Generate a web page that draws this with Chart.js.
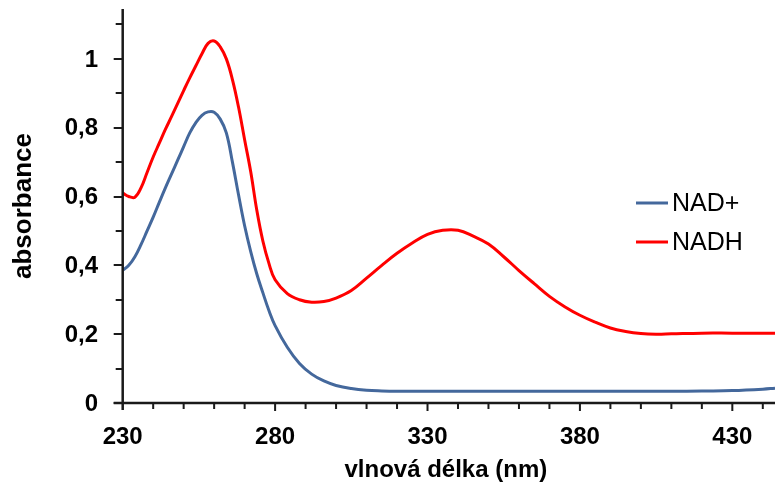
<!DOCTYPE html>
<html>
<head>
<meta charset="utf-8">
<script src="https://cdn.jsdelivr.net/npm/chart.js@4/dist/chart.umd.min.js"></script>
<style>
html,body{margin:0;padding:0;background:#fff;}
#wrap{width:775px;height:487px;position:relative;}
</style>
</head>
<body>
<div id="wrap"><canvas id="c" width="775" height="487"></canvas></div>
<script>
const wavelengths = [230,232,234,236,238,240,242,244,246,248,250,252,254,256,258,260,262,264,266,268,270,272,274,276,278,280,284,288,292,296,300,305,310,315,320,325,330,335,340,345,350,355,360,365,370,375,380,385,390,395,400,405,410,420,430,440,444];
const nadPlus = [0.386,0.40,0.425,0.46,0.50,0.54,0.583,0.625,0.665,0.705,0.745,0.785,0.815,0.836,0.846,0.845,0.825,0.785,0.70,0.605,0.515,0.44,0.375,0.32,0.268,0.225,0.162,0.115,0.084,0.064,0.051,0.042,0.037,0.035,0.034,0.034,0.034,0.034,0.034,0.034,0.034,0.034,0.034,0.034,0.034,0.034,0.034,0.034,0.034,0.034,0.034,0.034,0.034,0.035,0.036,0.040,0.043];
const nadh = [0.61,0.60,0.598,0.625,0.67,0.715,0.755,0.795,0.832,0.87,0.908,0.945,0.98,1.015,1.045,1.052,1.035,1.0,0.94,0.86,0.765,0.672,0.56,0.47,0.405,0.358,0.318,0.30,0.293,0.295,0.305,0.327,0.363,0.40,0.435,0.465,0.49,0.502,0.502,0.485,0.462,0.425,0.385,0.347,0.31,0.28,0.255,0.235,0.218,0.208,0.202,0.200,0.201,0.203,0.203,0.203,0.203];
const seriesNames = ['NAD+','NADH'];
const xTitle = 'vlnová délka (nm)';
const yTitle = 'absorbance';
const xMajorTicks = [230,280,330,380,430];
const yMajorTicks = [0,0.2,0.4,0.6,0.8,1];
const yTickLabels = ['0','0,2','0,4','0,6','0,8','1'];

const colors = ['#44689c','#ff0000'];
const toPts = arr => wavelengths.map((w,i)=>({x:w,y:arr[i]}));
const FONT = '"Liberation Sans", Arial, sans-serif';

const axesPlugin = {
  id:'axesPlugin',
  afterDatasetsDraw(chart){
    const ctx = chart.ctx, xs = chart.scales.x, ys = chart.scales.y;
    const ca = chart.chartArea;
    const x0 = xs.getPixelForValue(230), y0 = ys.getPixelForValue(0);
    ctx.save();
    ctx.strokeStyle = '#1a1a1a';
    ctx.lineWidth = 2.5;
    ctx.beginPath();
    ctx.moveTo(x0, ca.top); ctx.lineTo(x0, y0 + 7);
    ctx.moveTo(x0 - 9, y0); ctx.lineTo(ca.right + 2, y0);
    ctx.stroke();
    ctx.lineWidth = 2;
    ctx.beginPath();
    for (let k = 0; k <= 11; k++) {
      const v = k / 10;
      const p = Math.round(ys.getPixelForValue(v));
      const major = k % 2 === 0;
      ctx.moveTo(x0 - (major ? 9 : 7), p); ctx.lineTo(x0, p);
    }
    for (let w = 240; w <= 444; w += 10) {
      const p = xs.getPixelForValue(w);
      const major = xMajorTicks.includes(w);
      ctx.moveTo(p, y0); ctx.lineTo(p, y0 + (major ? 8 : 6));
    }
    ctx.stroke();
    // tick labels
    ctx.fillStyle = '#000';
    ctx.font = 'bold 24px ' + FONT;
    ctx.textBaseline = 'middle';
    ctx.textAlign = 'right';
    yMajorTicks.forEach((v, i) => ctx.fillText(yTickLabels[i], 98, ys.getPixelForValue(v) + 1));
    ctx.textAlign = 'center';
    xMajorTicks.forEach(w => ctx.fillText(String(w), xs.getPixelForValue(w), 437));
    // titles
    ctx.fillText(xTitle, (ca.left + ca.right) / 2 - 3, 470);
    ctx.save();
    ctx.translate(24, (ca.top + ca.bottom) / 2);
    ctx.rotate(-Math.PI / 2);
    ctx.font = 'bold 26px ' + FONT;
    ctx.fillText(yTitle, 0, 0);
    ctx.restore();
    // legend
    ctx.font = '25px ' + FONT;
    ctx.textAlign = 'left';
    const legY = [203, 242];
    chart.data.datasets.forEach((ds, i) => {
      ctx.strokeStyle = ds.borderColor;
      ctx.lineWidth = 3;
      ctx.beginPath();
      ctx.moveTo(636, legY[i]); ctx.lineTo(668, legY[i]);
      ctx.stroke();
      ctx.fillText(ds.label, 672, legY[i] + 1);
    });
    ctx.restore();
  }
};

new Chart(document.getElementById('c'), {
  type:'line',
  data:{
    datasets:[
      {label:seriesNames[0], data:toPts(nadPlus), borderColor:colors[0], borderWidth:3, pointRadius:0, tension:0.4, fill:false},
      {label:seriesNames[1], data:toPts(nadh), borderColor:colors[1], borderWidth:3, pointRadius:0, tension:0.4, fill:false}
    ]
  },
  options:{
    responsive:false,
    animation:false,
    layout:{padding:{top:9,right:0,left:0,bottom:0}},
    plugins:{legend:{display:false}, tooltip:{enabled:false}},
    scales:{
      x:{
        type:'linear', min:230, max:444,
        grid:{display:false}, border:{display:false},
        ticks:{display:false},
        afterFit(scale){ scale.height = 84; scale.paddingLeft = 0; scale.paddingRight = 0; }
      },
      y:{
        type:'linear', min:0, max:1.145,
        grid:{display:false}, border:{display:false},
        ticks:{display:false},
        afterFit(scale){ scale.width = 122.7; scale.paddingTop = 0; scale.paddingBottom = 0; }
      }
    }
  },
  plugins:[axesPlugin]
});
</script>
</body>
</html>
